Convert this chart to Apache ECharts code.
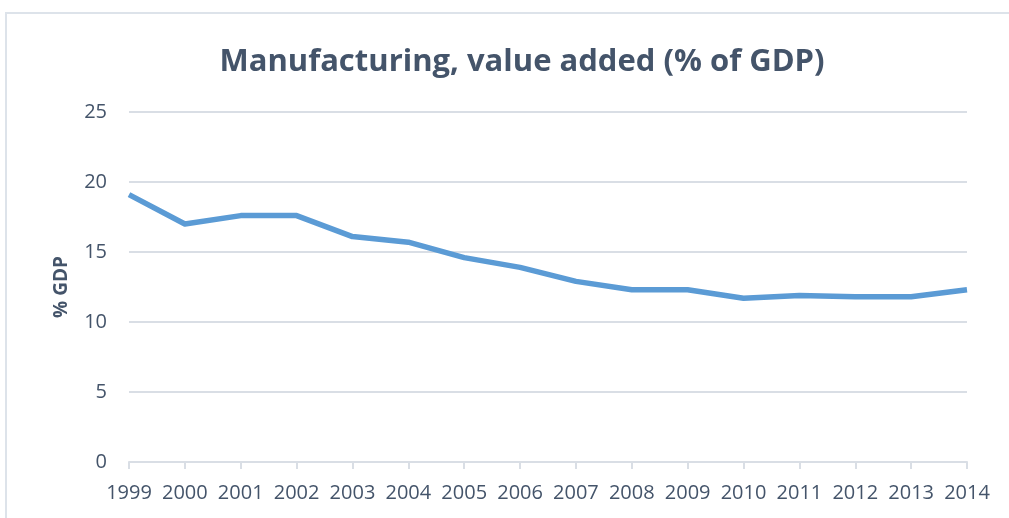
<!DOCTYPE html>
<html>
<head>
<meta charset="utf-8">
<script src="https://cdn.jsdelivr.net/npm/echarts@6/dist/echarts.min.js"></script>
<style>
  html, body { margin: 0; padding: 0; background: #ffffff; }
  #chart { width: 1009px; height: 518px; }
</style>
</head>
<body>
<div id="chart"></div>
<script>
// Manufacturing value added, share of GDP
const years = ['1999','2000','2001','2002','2003','2004','2005','2006','2007','2008','2009','2010','2011','2012','2013','2014'];
const valueAdded = [19.1, 17.0, 17.6, 17.6, 16.1, 15.7, 14.6, 13.9, 12.9, 12.3, 12.3, 11.7, 11.9, 11.8, 11.8, 12.3];
const titleText = 'Manufacturing, value added (% of GDP)';
const yAxisName = '% GDP';

const textColor = '#44546A';
const gridColor = '#D9DEE5';

const chart = echarts.init(document.getElementById('chart'));
chart.setOption({
  animation: false,
  backgroundColor: '#ffffff',
  graphic: [{
    type: 'rect',
    shape: { x: 6, y: 13, width: 1020, height: 520 },
    style: { fill: 'none', stroke: '#DDE3EA', lineWidth: 2 },
    silent: true,
    z: -1
  }],
  title: {
    text: titleText,
    left: 517,
    textAlign: 'center',
    top: 42,
    textStyle: {
      fontFamily: 'Open Sans',
      fontWeight: 'bold',
      fontSize: 31,
      color: textColor
    }
  },
  grid: { left: 129, right: 42, top: 112, bottom: 56 },
  xAxis: {
    type: 'category',
    data: years,
    boundaryGap: false,
    axisLine: { show: true, lineStyle: { color: gridColor, width: 2 } },
    axisTick: { show: true, length: 7, interval: 0, lineStyle: { color: gridColor, width: 2 } },
    axisLabel: {
      interval: 0,
      margin: 21,
      fontFamily: 'Open Sans',
      fontSize: 20,
      color: textColor
    },
    splitLine: { show: false }
  },
  yAxis: {
    type: 'value',
    min: 0,
    max: 25,
    interval: 5,
    name: yAxisName,
    nameLocation: 'middle',
    nameGap: 58,
    nameRotate: 90,
    nameTextStyle: {
      fontFamily: 'Open Sans',
      fontWeight: 'bold',
      fontSize: 19,
      color: textColor
    },
    axisLine: { show: false },
    axisTick: { show: false },
    axisLabel: {
      margin: 22,
      fontFamily: 'Open Sans',
      fontSize: 20,
      color: textColor
    },
    splitLine: { lineStyle: { color: gridColor, width: 2 } }
  },
  series: [{
    type: 'line',
    data: valueAdded,
    symbol: 'none',
    lineStyle: { color: '#5B9BD5', width: 5.5, join: 'round' }
  }]
});
</script>
</body>
</html>
